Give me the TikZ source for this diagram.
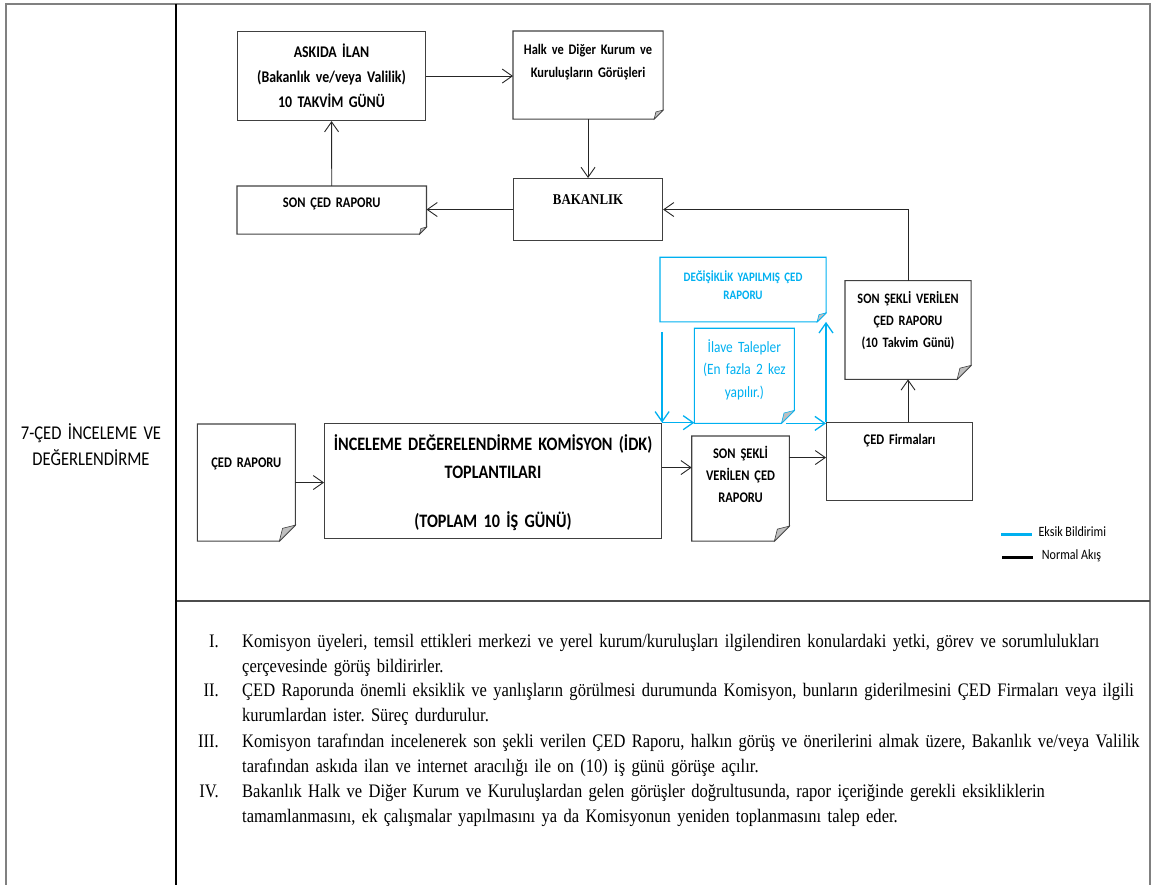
\documentclass[tikz,border=0pt]{standalone}
\usepackage{fontspec}
\newfontfamily\diafont[FakeStretch=0.85]{Carlito}
\newfontfamily\listfont[FakeStretch=0.865]{Liberation Serif}
\usepackage{tikz}
\usetikzlibrary{arrows.meta, backgrounds}
\definecolor{eksik}{RGB}{0,176,240}
\newcommand{\fs}[2]{\fontsize{#1}{#2}\selectfont}
\frenchspacing

\begin{document}
\begin{tikzpicture}[
    x=1pt, y=-1pt,
    >={Straight Barb[length=10pt, width=14pt]},
    box/.style={rectangle, draw=black!75, line width=1.1pt, inner sep=0pt,
                align=center, anchor=north west,
                font=\diafont\fs{14.7}{22}\bfseries},
    dbox/.style={box, draw=none},
    ebox/.style={dbox, text=eksik},
    dims/.style n args={3}{text width=#1pt, text height=#2pt, text depth=#3pt},
    arrow/.style={->, line width=0.9pt, black!85},
    earrow/.style={->, line width=1.3pt, eksik},
    docline/.style={line width=1.1pt},
    fold/.style={line width=0.6pt, fill=black!25},
    plabel/.style={anchor=base, text width=165pt, align=center, inner sep=0pt,
                   font=\diafont\fs{19.5}{26}},
    item/.style={anchor=base west, text width=1000pt, align=left, inner sep=0pt,
                 font=\listfont\fs{19.1}{25}},
    num/.style={anchor=base east, inner sep=0pt, font=\listfont\fs{19.1}{25}},
    leg/.style={anchor=base west, inner sep=0pt, font=\diafont\fs{14.2}{16}},
]
\useasboundingbox (0,0) rectangle (1152,885);

% === table frame ===
\draw[black!50, line width=1.6pt] (6,885) -- (6,4) -- (1150,4) -- (1150,885);
\draw[black!70, line width=1.2pt] (176,601) -- (1150,601);
\draw[black, line width=1.3pt] (176,4) -- (176,885);

\node[plabel] (stage) at (91,439) {7-ÇED İNCELEME VE\\DEĞERLENDİRME};

% === upper loop ===
\node[box, dims={188}{25.7}{63.3}, font=\diafont\fs{16.3}{25}\bfseries]
    (askida) at (237,31) {ASKIDA İLAN\\(Bakanlık ve/veya Valilik)\\10 TAKVİM GÜNÜ};
\node[dbox, dims={149}{23}{64}, font=\diafont\fs{14.6}{23}\bfseries]
    (halk) at (513,31) {Halk ve Diğer Kurum ve\\Kuruluşların Görüşleri};
\node[dbox, dims={188.4}{21}{26}] (soncr) at (237,186) {SON ÇED RAPORU};
\node[box, dims={149}{26}{36}, font=\listfont\fs{14.9}{17}\bfseries]
    (bakanlik) at (513,178) {BAKANLIK};
\draw[arrow] (askida.east) -- (askida.east -| halk.west);
\draw[arrow] (halk.south) -- (bakanlik.north);
\draw[arrow] (bakanlik.west) -- (bakanlik.west -| soncr.east);
\draw[arrow] (soncr.north) -- (askida.south);

% === eksik bildirimi ===
\node[ebox, dims={165}{23.4}{40.1}, font=\diafont\fs{12.9}{18.7}\bfseries]
    (degis) at (660,257.3) {DEĞİŞİKLİK YAPILMIŞ ÇED\\RAPORU};
\node[ebox, dims={99}{23.4}{70.6}, font=\diafont\fs{15.7}{22.5}]
    (ilave) at (694.3,328.3) {İlave Talepler\\(En fazla 2 kez\\yapılır.)};

% === lower row ===
\node[dbox, dims={125}{22.6}{75}, font=\diafont\fs{14.4}{22}\bfseries]
    (sonsv) at (845,280.7) {SON ŞEKLİ VERİLEN\\ÇED RAPORU\\(10 Takvim Günü)};
\node[box, dims={146}{22.3}{55.7}] (firma) at (826,422) {ÇED Firmaları};
\node[dbox, dims={96.6}{22.3}{81.7}] (sonsk) at (691.7,436) {SON ŞEKLİ\\VERİLEN ÇED\\RAPORU};
\node[dbox, dims={97}{42.7}{73.3}] (cedr) at (197.3,424) {ÇED RAPORU\hspace*{8pt}};
\node[box, dims={337}{27.3}{88.3}, font=\diafont\fs{19}{28.3}\bfseries]
    (idk) at (324,422.7) {İNCELEME DEĞERELENDİRME KOMİSYON (İDK)\\TOPLANTILARI\\[20pt](TOPLAM 10 İŞ GÜNÜ)};

\draw[arrow] (cedr.east) -- (cedr.east -| idk.west);
\draw[arrow] ([yshift=21pt]sonsk.west -| idk.east) -- ([yshift=21pt]sonsk.west);
\draw[arrow] ([yshift=4pt]firma.west -| sonsk.east) -- ([yshift=4pt]firma.west);
\draw[arrow] (sonsv.south |- firma.north) -- (sonsv.south);
\draw[arrow] (sonsv.north) |- (bakanlik.east);

\draw[earrow] ([yshift=-10pt]degis.south west -| idk.north east) -- (idk.north east);
\draw[earrow] (idk.north east) -- (idk.north east -| ilave.south west);
\draw[earrow] ([xshift=-8pt]ilave.south east) -- (ilave.south east -| firma.north west);
\draw[earrow] (firma.north west) -- (firma.north west |- degis.south east);

% document outlines with folded corner
\begin{scope}[on background layer]
\foreach \n/\c/\f in {halk/black!75/9pt, soncr/black!75/7pt, degis/eksik/9pt,
                      ilave/eksik/13pt, sonsv/black!75/14pt, sonsk/black!75/15pt,
                      cedr/black!75/16pt}{
  \draw[docline, draw=\c] (\n.north west) -- (\n.north east)
      -- ([yshift=\f]\n.south east) -- ([xshift=-\f]\n.south east)
      -- (\n.south west) -- cycle;
  \draw[fold, draw=\c] ([yshift=\f]\n.south east) -- ([xshift=-\f]\n.south east)
      -- ([xshift=-0.8*\f, yshift=0.8*\f]\n.south east) -- cycle;
}
\end{scope}

% === legend ===
\node[leg] (legb) at (1038.3,536.7) {Eksik Bildirimi};
\node[leg] (legn) at (1041.7,559.3) {Normal Akış};
\draw[eksik, line width=3pt] ([xshift=-6.6pt]legb.mid west) -- ++(-31,0);
\draw[black, line width=3pt] ([xshift=-9pt]legn.mid west) -- ++(-31,0);

% === notes ===
\node[num] (n1) at (219,647) {I.};
\node[item] (t1) at (242,647) {Komisyon üyeleri, temsil ettikleri merkezi ve yerel kurum/kuruluşları ilgilendiren konulardaki yetki, görev ve sorumlulukları\\çerçevesinde görüş bildirirler.};
\node[num] (n2) at (219,696) {II.};
\node[item] (t2) at (242,696) {ÇED Raporunda önemli eksiklik ve yanlışların görülmesi durumunda Komisyon, bunların giderilmesini ÇED Firmaları veya ilgili\\kurumlardan ister. Süreç durdurulur.};
\node[num] (n3) at (219,747) {III.};
\node[item] (t3) at (242,747) {Komisyon tarafından incelenerek son şekli verilen ÇED Raporu, halkın görüş ve önerilerini almak üzere, Bakanlık ve/veya Valilik\\tarafından askıda ilan ve internet aracılığı ile on (10) iş günü görüşe açılır.};
\node[num] (n4) at (219,797) {IV.};
\node[item] (t4) at (242,797) {Bakanlık Halk ve Diğer Kurum ve Kuruluşlardan gelen görüşler doğrultusunda, rapor içeriğinde gerekli eksikliklerin\\tamamlanmasını, ek çalışmalar yapılmasını ya da Komisyonun yeniden toplanmasını talep eder.};

\end{tikzpicture}
\end{document}
